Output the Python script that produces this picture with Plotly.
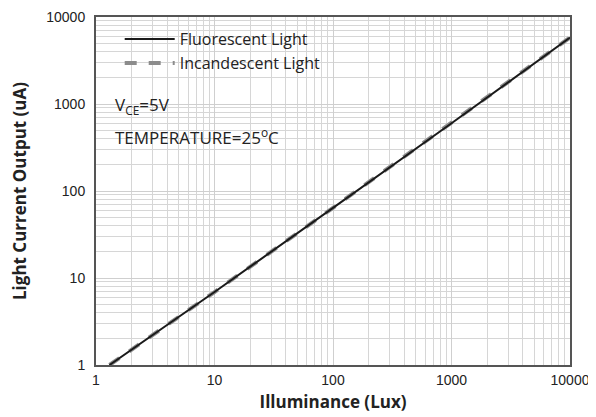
import plotly.graph_objects as go

lux = [1.3, 10, 100, 1000, 10000]
fluorescent_ua = [1.0, 6.9, 64, 600, 5800]
incandescent_ua = [1.0, 6.9, 64, 600, 5800]

x_ticks = [1, 10, 100, 1000, 10000]
y_ticks = [1, 10, 100, 1000, 10000]

fig = go.Figure()
fig.add_trace(go.Scatter(x=lux, y=incandescent_ua, mode="lines", name="Incandescent Light",
                         line=dict(color="#8c8c8c", width=4, dash="dash")))
fig.add_trace(go.Scatter(x=lux, y=fluorescent_ua, mode="lines", name="Fluorescent Light",
                         line=dict(color="#1a1a1a", width=2)))

tickfont = dict(family="Liberation Sans, Arial", size=14, color="#222")
titlefont = dict(family="Open Sans, Liberation Sans", size=17, color="#222", weight="bold")
axis_common = dict(type="log", showline=True, linecolor="#555555", linewidth=2, mirror=True,
                   showgrid=True, gridcolor="#cfcfcf", gridwidth=1,
                   minor=dict(showgrid=True, gridcolor="#d6d6d6", gridwidth=1, dtick="D1"),
                   tickfont=tickfont, ticks="", zeroline=False, automargin=False)

fig.update_xaxes(range=[0, 4], tickvals=x_ticks, ticktext=[str(v) for v in x_ticks],
                 ticklabelstandoff=1,
                 title=dict(text="Illuminance (Lux)", font=titlefont, standoff=9),
                 **axis_common)
fig.update_yaxes(range=[0, 4], tickvals=y_ticks, ticktext=[str(v) for v in y_ticks],
                 ticklabelstandoff=6,
                 title=dict(text="Light Current Output (uA)", font=titlefont, standoff=18),
                 **axis_common)

# white boxes behind legend and condition notes
fig.add_shape(type="rect", xref="paper", yref="paper", x0=0.006, x1=0.494, y0=0.813, y1=0.982,
              fillcolor="white", line=dict(width=0), layer="between")
fig.add_shape(type="rect", xref="paper", yref="paper", x0=0.006, x1=0.477, y0=0.618, y1=0.782,
              fillcolor="white", line=dict(width=0), layer="between")

notefont = dict(family="Open Sans, Liberation Sans", size=17, color="#222")
fig.add_annotation(xref="paper", yref="paper", x=0.036, y=0.745, xanchor="left", yanchor="middle",
                   text="V<sub>CE</sub>=5V", showarrow=False, font=notefont)
fig.add_annotation(xref="paper", yref="paper", x=0.036, y=0.657, xanchor="left", yanchor="middle",
                   text="TEMPERATURE=25<sup>o</sup>C", showarrow=False, font=notefont)

fig.update_layout(
    width=588, height=409,
    margin=dict(l=88, r=26, t=9, b=52),
    plot_bgcolor="white", paper_bgcolor="white",
    legend=dict(x=0.05, y=0.985, xanchor="left", yanchor="top", bgcolor="rgba(0,0,0,0)",
                traceorder="reversed", tracegroupgap=0, itemwidth=50,
                font=dict(family="Open Sans, Liberation Sans", size=16, color="#222")),
    showlegend=True,
)

fig.write_html("out.html")
